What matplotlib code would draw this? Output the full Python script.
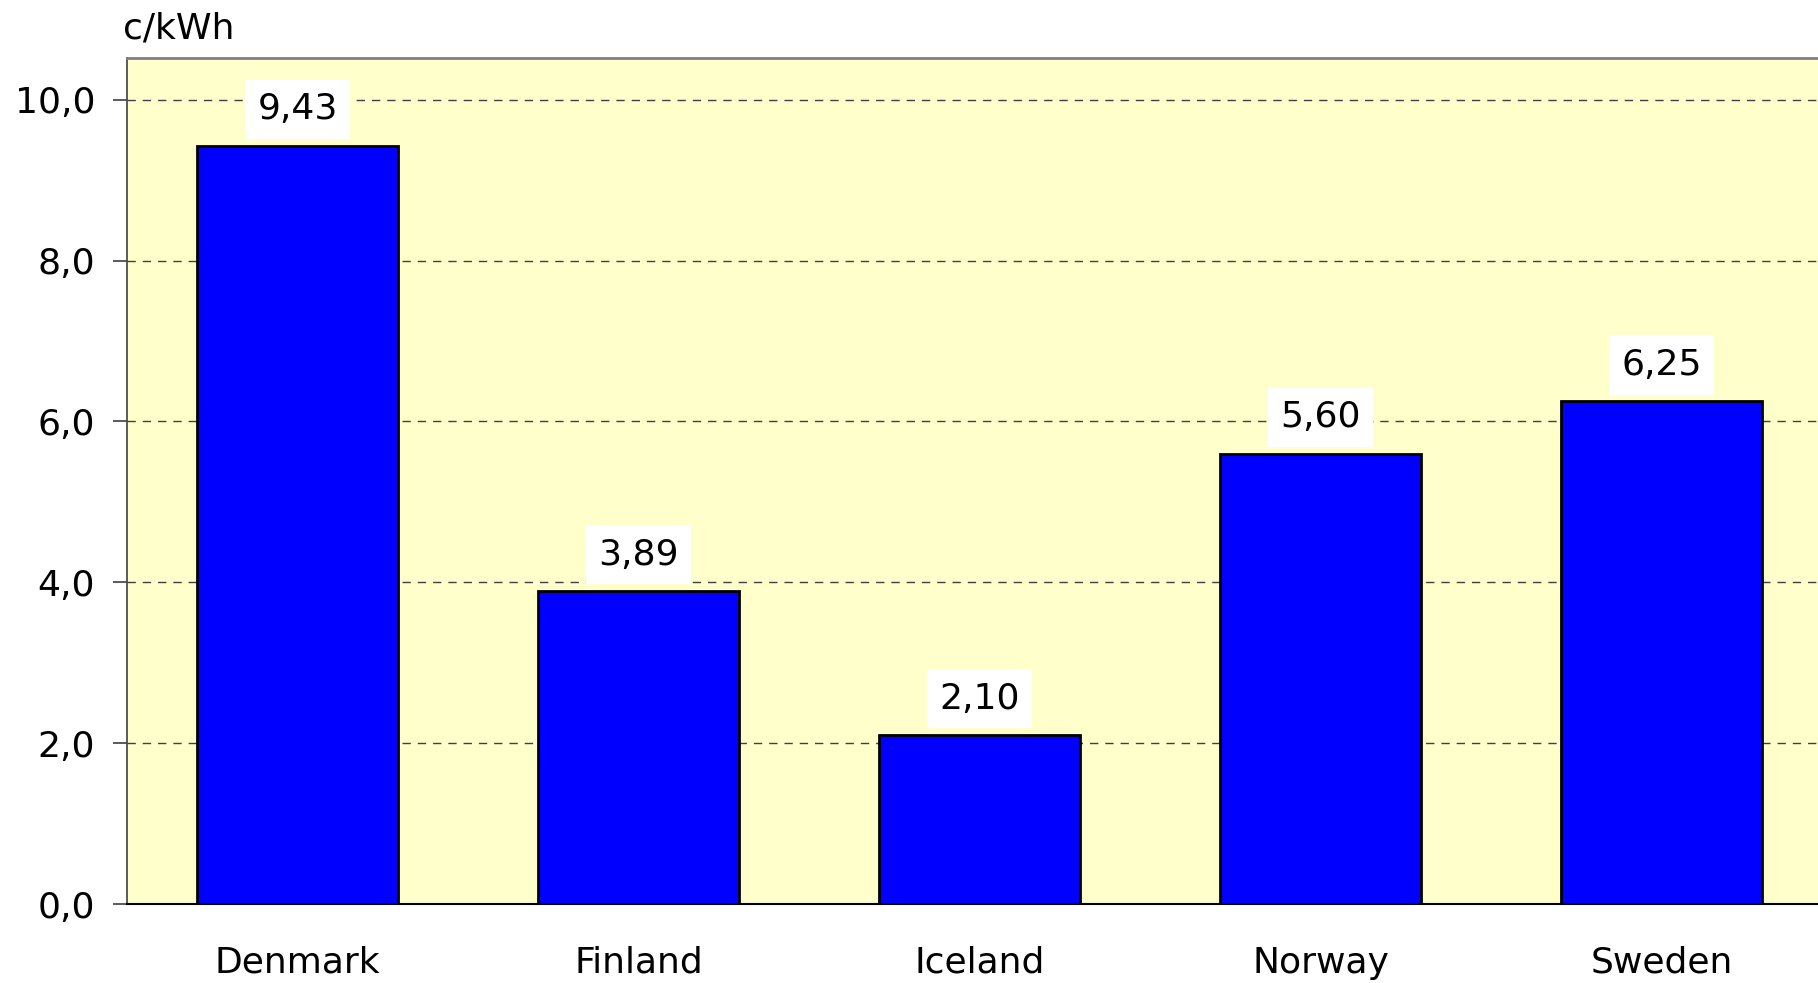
import matplotlib
matplotlib.use('Agg')
import matplotlib.pyplot as plt
import numpy as np

# data
countries = ['Denmark', 'Finland', 'Iceland', 'Norway', 'Sweden']
values = [9.43, 3.89, 2.10, 5.60, 6.25]
yticks = [0, 2, 4, 6, 8, 10]
unit = 'c/kWh'


def comma(v, decimals):
    return f'{v:.{decimals}f}'.replace('.', ',')


fig = plt.figure(figsize=(18.18, 9.83), dpi=100)
ax = fig.add_axes([127 / 1818, 1 - 904 / 983, 1705 / 1818, (904 - 58) / 983])
ax.set_facecolor('#FFFFCC')

x = np.arange(len(countries))
ax.bar(x, values, width=0.59, color='#0000FF', edgecolor='black', linewidth=2, zorder=3)

ax.set_xlim(-0.5, len(countries) - 0.5)
ax.set_ylim(0, 10.52)
ax.set_yticks(yticks)
ax.set_yticklabels([comma(v, 1) for v in yticks], fontsize=26)
ax.set_xticks(x)
ax.set_xticklabels(countries, fontsize=26)
ax.tick_params(axis='y', length=10, width=1.2, pad=13, color='#404040')
ax.tick_params(axis='x', length=0, pad=30)

ax.yaxis.grid(True, linestyle=(0, (6, 5)), color='#404040', linewidth=1)
ax.set_axisbelow(True)

ax.spines['top'].set_color('#808080')
ax.spines['top'].set_linewidth(2)
ax.spines['right'].set_visible(False)
ax.spines['left'].set_color('#404040')
ax.spines['left'].set_linewidth(1.2)
ax.spines['bottom'].set_color('black')
ax.spines['bottom'].set_linewidth(1.5)

for xi, v in zip(x, values):
    ax.annotate(comma(v, 2), (xi, v), xytext=(0, 14), textcoords='offset points',
                ha='center', va='bottom', fontsize=26, zorder=4,
                bbox=dict(boxstyle='square,pad=0.35', facecolor='white', edgecolor='none'))

fig.text(123 / 1818, 1 - 38 / 983, unit, fontsize=26, ha='left', va='baseline')

fig.savefig('out.png', dpi=100)
